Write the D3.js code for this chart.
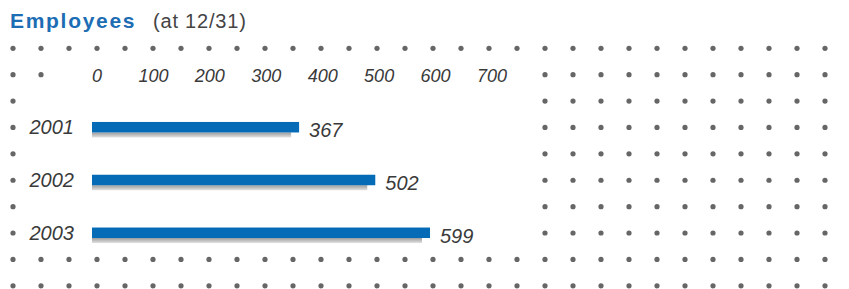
<!DOCTYPE html>
<html>
<head>
<meta charset="utf-8">
<script src="https://cdn.jsdelivr.net/npm/d3@7"></script>
<style>
  body { margin: 0; background: #fff; }
  svg { display: block; font-family: "Liberation Sans", Arial, sans-serif; }
</style>
</head>
<body>
<div id="vis"></div>
<script>
// Data
const YEARS = ["2001", "2002", "2003"];
const EMPLOYEES = [367, 502, 599];
const TICKS = [0, 100, 200, 300, 400, 500, 600, 700];

// Frame
const FRAME_WIDTH = 849;
const FRAME_HEIGHT = 289;

const FRAME = d3.select("#vis")
  .append("svg")
    .attr("width", FRAME_WIDTH)
    .attr("height", FRAME_HEIGHT);

// Shadow gradient under bars
const grad = FRAME.append("defs").append("linearGradient")
  .attr("id", "shadow")
  .attr("x1", 0).attr("y1", 0).attr("x2", 0).attr("y2", 1);
grad.append("stop").attr("offset", "0%").attr("stop-color", "#9c9c9c");
grad.append("stop").attr("offset", "100%").attr("stop-color", "#e2e2e2");

// Dot grid background (30 columns x 10 rows)
const COL_X = d3.scaleLinear().domain([0, 29]).range([13, 825]);
const ROW_Y = d3.scaleLinear().domain([0, 9]).range([48.3, 285.8]);

const dots = [];
d3.range(10).forEach((r) => {
  d3.range(30).forEach((c) => {
    // leave the chart area empty
    let skip = false;
    if (r === 1 && c >= 2 && c <= 18) skip = true;
    if (r >= 2 && r <= 7 && c >= 1 && c <= 18) skip = true;
    if (!skip) dots.push({r: r, c: c});
  });
});

FRAME.append("g")
  .selectAll("circle")
  .data(dots)
  .enter()
  .append("circle")
    .attr("cx", (d) => COL_X(d.c))
    .attr("cy", (d) => ROW_Y(d.r))
    .attr("r", 2.6)
    .attr("fill", "#666");

// Title
const title = FRAME.append("text")
  .attr("x", 10)
  .attr("y", 28);
title.append("tspan")
  .attr("font-weight", "700")
  .attr("fill", "#1c6db4")
  .style("font-size", "21px")
  .style("letter-spacing", "1.7px")
  .text("Employees");
title.append("tspan")
  .attr("x", 153)
  .attr("fill", "#444")
  .style("font-size", "20px")
  .style("letter-spacing", "0.8px")
  .text("(at 12/31)");

// Scales
const X_SCALE = d3.scaleLinear()
  .domain([0, 700])
  .range([92, 487]);

const Y_SCALE = d3.scalePoint()
  .domain(YEARS)
  .range([ROW_Y(3), ROW_Y(7)]);

const BAR_H = 10.5;

// X axis labels (top)
FRAME.append("g")
  .selectAll("text")
  .data(TICKS)
  .enter()
  .append("text")
    .attr("x", (d) => X_SCALE(d) + 5)
    .attr("y", 82)
    .attr("text-anchor", "middle")
    .attr("font-style", "italic")
    .attr("fill", "#3a3a3a")
    .style("font-size", "18px")
    .text((d) => d);

// Year labels
FRAME.append("g")
  .selectAll("text")
  .data(YEARS)
  .enter()
  .append("text")
    .attr("x", 74)
    .attr("y", (d) => Y_SCALE(d) + 6.5)
    .attr("text-anchor", "end")
    .attr("font-style", "italic")
    .attr("fill", "#3a3a3a")
    .style("font-size", "20px")
    .text((d) => d);

const rows = YEARS.map((y, i) => ({year: y, value: EMPLOYEES[i]}));

// Shadows
FRAME.append("g")
  .selectAll("rect")
  .data(rows)
  .enter()
  .append("rect")
    .attr("x", X_SCALE(0))
    .attr("y", (d) => Y_SCALE(d.year) - 5.5 + BAR_H)
    .attr("width", (d) => X_SCALE(d.value) - X_SCALE(0) - 8)
    .attr("height", 5)
    .attr("fill", "url(#shadow)");

// Bars
FRAME.append("g")
  .selectAll("rect")
  .data(rows)
  .enter()
  .append("rect")
    .attr("x", X_SCALE(0))
    .attr("y", (d) => Y_SCALE(d.year) - 5.5)
    .attr("width", (d) => X_SCALE(d.value) - X_SCALE(0))
    .attr("height", BAR_H)
    .attr("fill", "#056bb6");

// Value labels
FRAME.append("g")
  .selectAll("text")
  .data(rows)
  .enter()
  .append("text")
    .attr("x", (d) => X_SCALE(d.value) + 10)
    .attr("y", (d) => Y_SCALE(d.year) + 10)
    .attr("font-style", "italic")
    .attr("fill", "#3a3a3a")
    .style("font-size", "20px")
    .text((d) => d.value);
</script>
</body>
</html>
